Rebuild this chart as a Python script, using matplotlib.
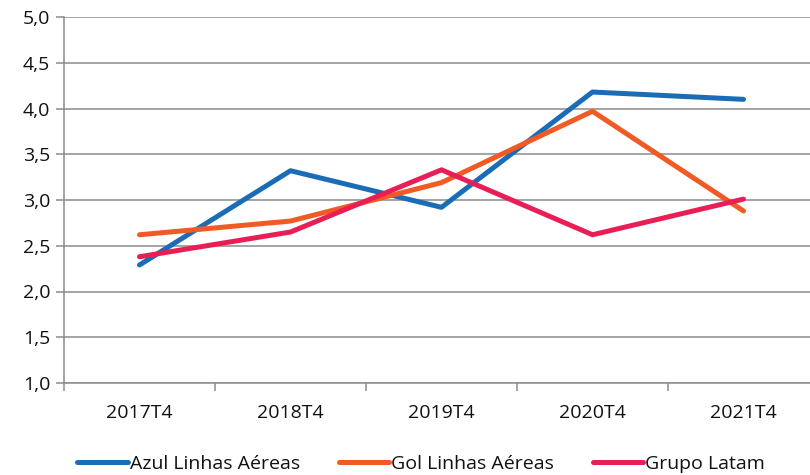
import matplotlib

matplotlib.use("Agg")
import matplotlib.pyplot as plt
import numpy as np
from matplotlib.ticker import FuncFormatter

categories = ["2017T4", "2018T4", "2019T4", "2020T4", "2021T4"]
azul = [2.29, 3.32, 2.92, 4.18, 4.10]
gol = [2.62, 2.77, 3.19, 3.97, 2.88]
latam = [2.38, 2.65, 3.33, 2.62, 3.01]

series = [
    ("Azul Linhas Aéreas", azul, "#1a6db5"),
    ("Gol Linhas Aéreas", gol, "#f15a24"),
    ("Grupo Latam", latam, "#e91e55"),
]

plt.rcParams["font.family"] = ["Open Sans", "DejaVu Sans"]

fig = plt.figure(figsize=(8.1, 4.75), dpi=100)
ax = fig.add_axes([64 / 810, 1 - 383 / 475, 755 / 810, 366 / 475])

x = np.arange(len(categories))
for label, values, color in series:
    ax.plot(x, values, color=color, linewidth=3.6, label=label, solid_capstyle="round")

ax.set_xlim(-0.5, len(categories) - 0.5)
ax.set_ylim(1.0, 5.0)
ax.set_yticks(np.arange(1.0, 5.01, 0.5))
ax.yaxis.set_major_formatter(FuncFormatter(lambda v, _: f"{v:.1f}".replace(".", ",")))
ax.grid(axis="y", color="#8c8c8c", linewidth=1.1)
ax.set_axisbelow(True)

# category boundaries carry the tick marks, labels sit between them
ax.set_xticks(np.arange(-0.5, len(categories), 1.0))
ax.set_xticklabels([])
ax.set_xticks(x, minor=True)
ax.set_xticklabels(categories, minor=True)
ax.tick_params(axis="x", which="major", length=6, color="#8c8c8c", width=1.1, direction="out")
ax.tick_params(axis="x", which="minor", length=0, pad=15, labelsize=14, labelcolor="#111111")
ax.tick_params(axis="y", length=6, color="#8c8c8c", width=1.1, labelsize=14, labelcolor="#111111", pad=4)

for side in ["top", "right"]:
    ax.spines[side].set_visible(False)
for side in ["left", "bottom"]:
    ax.spines[side].set_color("#8c8c8c")
    ax.spines[side].set_linewidth(1.1)

fig.legend(
    loc="lower center",
    bbox_to_anchor=(0.52, -0.033),
    ncol=3,
    frameon=False,
    fontsize=14,
    handlelength=2.6,
    handletextpad=0.1,
    columnspacing=2.0,
    labelcolor="#111111",
)

fig.savefig("out.png", dpi=100)
